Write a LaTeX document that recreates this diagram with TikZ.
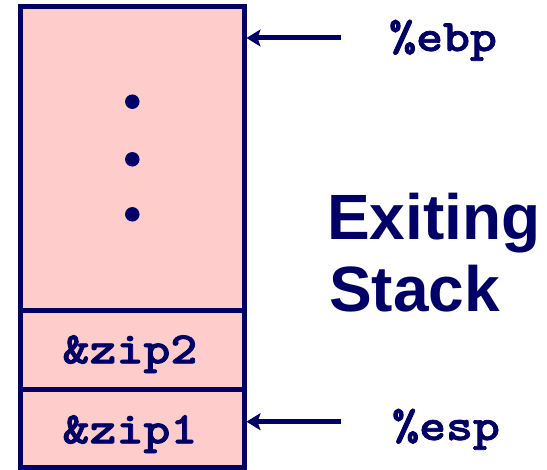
\documentclass[tikz,border=0pt]{standalone}
\usepackage{fontspec}
\setsansfont{Liberation Sans}
\newfontfamily\heavymono{lmmonolt10-bold.otf}[FakeBold=1.6]
\usetikzlibrary{arrows.meta}
\definecolor{navy}{HTML}{000066}
\definecolor{stackpink}{HTML}{FFCCCC}
\newcommand{\widemono}[1]{\scalebox{1.14}[1]{#1}}
\begin{document}
\begin{tikzpicture}[x=1pt,y=-1pt,
  cell/.style={draw=navy, fill=stackpink, line width=5pt, inner sep=0pt, minimum width=223.5pt},
  monotext/.style={text=navy, font=\fontsize{45}{45}\selectfont\heavymono, inner sep=0pt},
  ptr/.style={draw=navy, line width=5pt, -{Stealth[length=14pt,width=17pt,inset=3pt]}},
  titletext/.style={text=navy, font=\fontsize{64}{64}\selectfont\sffamily\bfseries, anchor=base west, inner sep=0pt},
  stackdot/.style={circle, fill=navy, minimum size=14.5pt, inner sep=0pt}]
\useasboundingbox (0,0) rectangle (547,470);
% stack cells
\node[cell, minimum height=304.2pt] (frame) at (132.25,158.4) {};
\node[cell, minimum height=79.5pt] (zip2) at (132.25,350.25) {};
\node[cell, minimum height=77.5pt] (zip1) at (132.25,428.75) {};
% dots
\node[stackdot] (d1) at (132.3,101.7) {};
\node[stackdot] (d2) at (132.3,159.3) {};
\node[stackdot] (d3) at (132.3,214.3) {};
% cell texts
\node[monotext, anchor=base] (t2) at (130,363.3) {\widemono{\&zip2}};
\node[monotext, anchor=base] (t1) at (130,443.3) {\widemono{\&zip1}};
% register labels
\node[monotext, anchor=base west] (ebp) at (389,51) {\widemono{\%ebp}};
\node[monotext, anchor=base west] (esp) at (392,440) {\widemono{\%esp}};
% pointers
\coordinate (ebpstart) at (340.7,38);
\coordinate (espstart) at (340.7,421.7);
\draw[ptr] (ebpstart) -- (frame.east |- ebpstart);
\draw[ptr] (espstart) -- (zip1.east |- espstart);
% title
\node[titletext] (exiting) at (327,239.3) {Exiting};
\node[titletext] (stack) at (329,311.7) {Stack};
\end{tikzpicture}
\end{document}
